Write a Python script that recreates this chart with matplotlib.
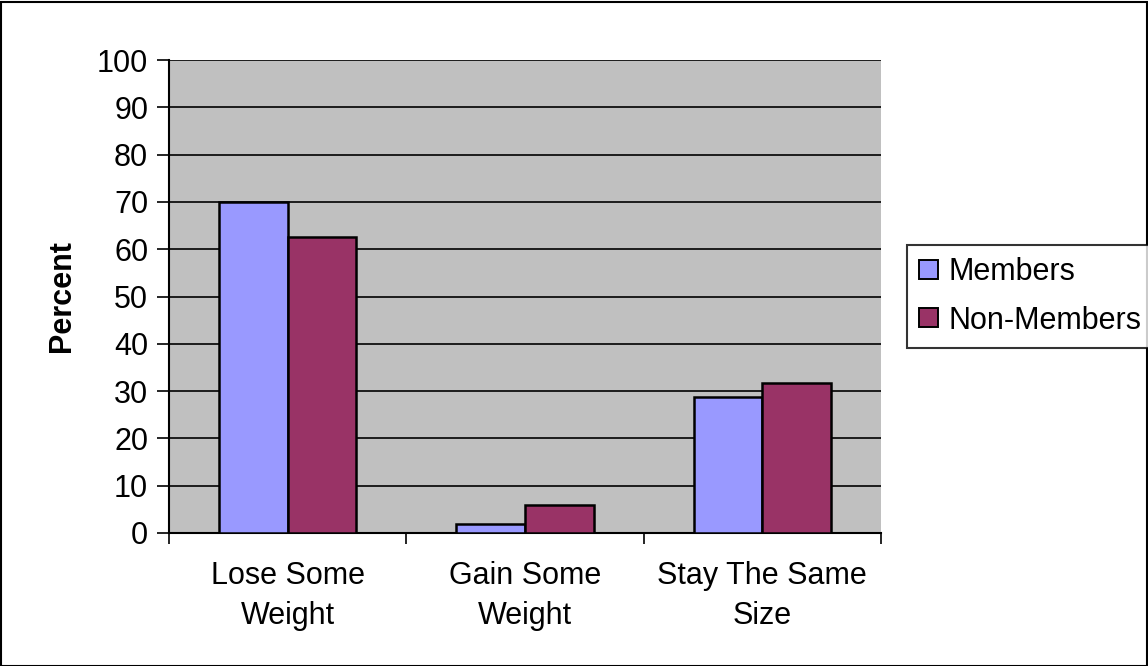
import matplotlib
matplotlib.use("Agg")
import matplotlib.pyplot as plt
import numpy as np
from matplotlib.patches import Rectangle

plt.rcParams['font.family'] = ['Liberation Sans', 'DejaVu Sans']

categories = ["Lose Some\nWeight", "Gain Some\nWeight", "Stay The Same\nSize"]
members = [70.0, 1.8, 28.8]
non_members = [62.6, 6.0, 31.7]
series_names = ["Members", "Non-Members"]
colors = ["#9999FF", "#993366"]

W, H = 1148, 666
FS = 22
fig = plt.figure(figsize=(W / 100, H / 100), dpi=100)
ax = fig.add_axes([169 / W, 1 - 533 / H, (881 - 169) / W, (533 - 60) / H])
ax.set_facecolor("#C0C0C0")

x = np.arange(len(categories))
bw = 0.29
ax.bar(x - bw / 2, members, bw, color=colors[0], edgecolor="black", linewidth=1.8,
       label=series_names[0], zorder=3)
ax.bar(x + bw / 2, non_members, bw, color=colors[1], edgecolor="black", linewidth=1.8,
       label=series_names[1], zorder=3)

ax.set_xlim(-0.5, len(categories) - 0.5)
ax.set_ylim(0, 100)
ax.set_yticks(np.arange(0, 101, 10))
ax.yaxis.grid(True, color="black", linewidth=1.2, zorder=1)
ax.set_axisbelow(True)

ax.set_xticks(np.arange(len(categories) + 1) - 0.5, minor=False)
ax.set_xticklabels([])
ax.set_xticks(x, minor=True)
ax.set_xticklabels(categories, minor=True, fontsize=FS, linespacing=1.45)
ax.tick_params(axis="x", which="major", direction="out", length=8, width=1.2)
ax.tick_params(axis="x", which="minor", length=0, pad=20)
ax.tick_params(axis="y", direction="out", length=9, width=1.2, labelsize=FS, pad=6)

for side in ["top", "right"]:
    ax.spines[side].set_visible(False)
ax.spines["left"].set_linewidth(1.5)
ax.spines["bottom"].set_linewidth(1.5)

ax.set_ylabel("Percent", fontsize=FS, fontweight="bold", labelpad=14)

leg = fig.legend(loc="upper left", bbox_to_anchor=(907 / W, 1 - 245 / H),
                 fontsize=FS, frameon=True, fancybox=False, edgecolor="black",
                 handlelength=0.6, handleheight=0.6, handletextpad=0.35,
                 borderpad=0.4, labelspacing=0.6, borderaxespad=0)
leg.get_frame().set_linewidth(1.5)
for h in leg.legend_handles:
    h.set_linewidth(1.4)

fig.patches.append(Rectangle((0.5 / W, 0.5 / H), (W - 2) / W, (H - 2) / H,
                             transform=fig.transFigure, fill=False,
                             edgecolor="black", linewidth=1.5))

fig.savefig("out.png", dpi=100)
